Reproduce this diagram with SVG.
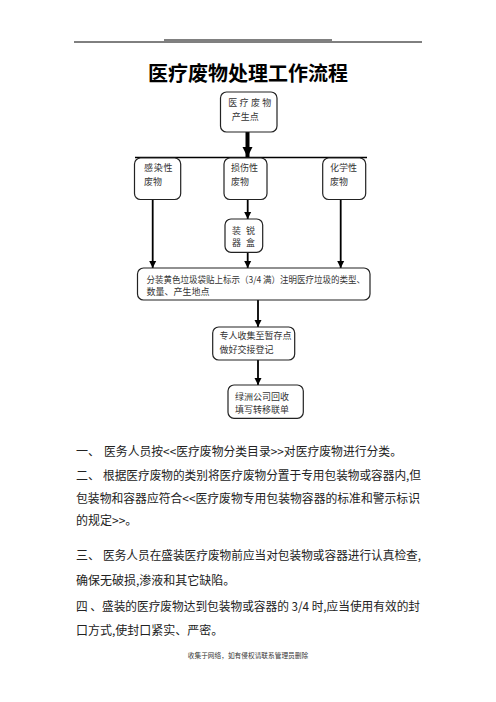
<svg xmlns="http://www.w3.org/2000/svg" width="496" height="702" viewBox="0 0 496 702">
<defs>
<style>
.cjk{font-family:"Noto Sans CJK SC","Noto Sans",sans-serif;}
.box{fill:#fff;stroke:#222;stroke-width:1.2;}
.bt{font-size:9px;fill:#333;}
.body{font-size:12px;fill:#222;}
.conn{stroke:#000;stroke-width:1.8;fill:none;}
</style>
<marker id="ah" viewBox="0 0 10 10" refX="10" refY="5" markerWidth="4" markerHeight="4.5" markerUnits="strokeWidth" orient="auto">
<path d="M0,0 L10,5 L0,10 z" fill="#000"/>
</marker>
<marker id="ahb" viewBox="0 0 10 10" refX="10" refY="5" markerWidth="2.6" markerHeight="3" markerUnits="strokeWidth" orient="auto">
<path d="M0,0 L10,5 L0,10 z" fill="#000"/>
</marker>
</defs>
<rect width="496" height="702" fill="#fff"/>

<g id="header">
<line x1="164" y1="40" x2="332" y2="40" stroke="#000" stroke-width="1"/>
<line x1="74" y1="42" x2="422" y2="42" stroke="#000" stroke-width="1"/>
<text x="248" y="81" class="cjk" font-size="20" font-weight="bold" text-anchor="middle" fill="#000">医疗废物处理工作流程</text>
</g>

<g id="connectors">
<line x1="135" y1="157.5" x2="367" y2="157.5" stroke="#000" stroke-width="1.3"/>
<line x1="247.5" y1="132" x2="247.5" y2="157" stroke="#000" stroke-width="4" marker-end="url(#ahb)"/>
<line x1="152.7" y1="199.5" x2="152.7" y2="268" class="conn" marker-end="url(#ah)"/>
<line x1="247.7" y1="199.5" x2="247.7" y2="219" class="conn" marker-end="url(#ah)"/>
<line x1="247.7" y1="252.3" x2="247.7" y2="268" class="conn" marker-end="url(#ah)"/>
<line x1="340.7" y1="199.5" x2="340.7" y2="268" class="conn" marker-end="url(#ah)"/>
<line x1="258" y1="300" x2="258" y2="327" class="conn" stroke-width="2" marker-end="url(#ah)"/>
<line x1="258" y1="360" x2="258" y2="385" class="conn" stroke-width="2" marker-end="url(#ah)"/>
</g>

<g id="source">
<rect x="220.5" y="92" width="56.5" height="40" rx="6" class="box"/>
<text x="228.3" y="106.4" class="cjk bt" letter-spacing="2.3">医疗废物</text>
<text x="231.7" y="119.7" class="cjk bt">产生点</text>
</g>

<g id="infectious">
<rect x="134.5" y="158" width="46.2" height="41.5" rx="6" class="box"/>
<text x="144" y="170.7" class="cjk bt" letter-spacing="0.8">感染性</text>
<text x="144" y="185" class="cjk bt">废物</text>
</g>

<g id="sharps">
<rect x="224" y="158" width="43" height="41.5" rx="6" class="box"/>
<text x="231" y="170.7" class="cjk bt">损伤性</text>
<text x="231" y="185" class="cjk bt">废物</text>
</g>

<g id="chemical">
<rect x="322.7" y="158" width="43" height="41.5" rx="6" class="box"/>
<text x="330" y="170.7" class="cjk bt">化学性</text>
<text x="330" y="185" class="cjk bt">废物</text>
</g>

<g id="sharpsbox">
<rect x="225" y="219" width="37.7" height="33.3" rx="6" class="box"/>
<text x="232" y="234.4" class="cjk bt" letter-spacing="5">装锐</text>
<text x="232" y="246" class="cjk bt" letter-spacing="5">器盒</text>
</g>

<g id="bagging">
<rect x="137.5" y="268" width="232.5" height="32" rx="6" class="box"/>
<text x="146.5" y="283.4" class="cjk bt" font-size="8.6" textLength="218.5" lengthAdjust="spacingAndGlyphs">分装黄色垃圾袋贴上标示（3/4 满）注明医疗垃圾的类型、</text>
<text x="146.5" y="295" class="cjk bt" font-size="8.6">数量、产生地点</text>
</g>

<g id="storage">
<rect x="212.7" y="327" width="82" height="33" rx="6" class="box"/>
<text x="219.5" y="339.4" class="cjk bt">专人收集至暂存点</text>
<text x="219.5" y="353.4" class="cjk bt">做好交接登记</text>
</g>

<g id="transfer">
<rect x="228" y="385" width="75.3" height="33.3" rx="6" class="box"/>
<text x="235" y="400" class="cjk bt">绿洲公司回收</text>
<text x="235" y="413.4" class="cjk bt">填写转移联单</text>
</g>

<g id="body" class="cjk body">
<text x="76" y="456.3">一、</text>
<text x="104" y="456.3" textLength="298" lengthAdjust="spacingAndGlyphs">医务人员按&lt;&lt;医疗废物分类目录&gt;&gt;对医疗废物进行分类。</text>
<text x="76" y="479.6">二、</text>
<text x="103" y="479.6" textLength="318" lengthAdjust="spacingAndGlyphs">根据医疗废物的类别将医疗废物分置于专用包装物或容器内,但</text>
<text x="76" y="502.9" textLength="344" lengthAdjust="spacingAndGlyphs">包装物和容器应符合&lt;&lt;医疗废物专用包装物容器的标准和警示标识</text>
<text x="76" y="525.2">的规定&gt;&gt;。</text>
<text x="76" y="559.6">三、</text>
<text x="103" y="559.6" textLength="318" lengthAdjust="spacingAndGlyphs">医务人员在盛装医疗废物前应当对包装物或容器进行认真检查,</text>
<text x="76" y="584.6">确保无破损,渗液和其它缺陷。</text>
<text x="76" y="611.3" textLength="344" lengthAdjust="spacingAndGlyphs">四 、盛装的医疗废物达到包装物或容器的 3/4 时,应当使用有效的封</text>
<text x="76" y="634.6">口方式,使封口紧实、严密。</text>
</g>

<g id="footer">
<text x="248" y="658" class="cjk" font-size="6.7" fill="#333" text-anchor="middle">收集于网络，如有侵权请联系管理员删除</text>
</g>
</svg>
